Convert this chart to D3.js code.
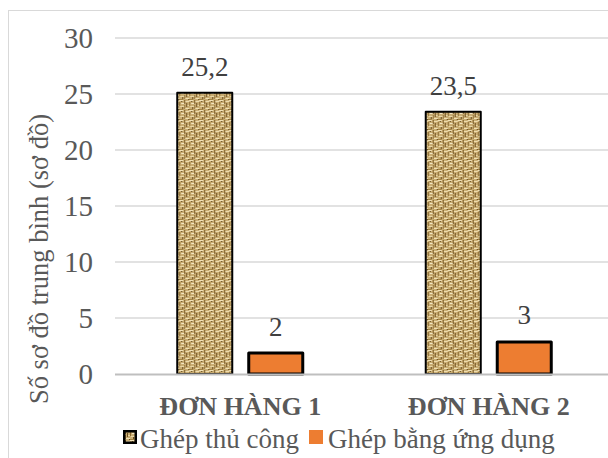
<!DOCTYPE html>
<html>
<head>
<meta charset="utf-8">
<script src="https://cdn.jsdelivr.net/npm/d3@7"></script>
<style>
  html, body { margin: 0; padding: 0; background: #fff; }
  svg { display: block; }
  svg text { font-family: "Liberation Serif", "Times New Roman", Times, "DejaVu Serif", serif !important; }
</style>
</head>
<body>
<svg id="chart" width="608" height="458"></svg>
<script>
// Categories, series and values
const categories = ["ĐƠN HÀNG 1", "ĐƠN HÀNG 2"];
const seriesNames = ["Ghép thủ công", "Ghép bằng ứng dụng"];
const manualValues = [25.2, 23.5];
const appValues = [2, 3];
const valueLabels = [["25,2", "2"], ["23,5", "3"]];
const yTicks = [0, 5, 10, 15, 20, 25, 30];
const yTitle = "Số sơ đồ trung bình (sơ đồ)";

const svg = d3.select("#chart");
const W = 608, H = 458;
const SERIF = "'Liberation Serif', 'Times New Roman', Times, 'DejaVu Serif', serif";

// Burlap-like woven texture for the manual series
const defs = svg.append("defs");
const pat = defs.append("pattern")
  .attr("id", "burlap")
  .attr("patternUnits", "userSpaceOnUse")
  .attr("width", 10).attr("height", 10);
pat.append("rect").attr("width", 10).attr("height", 10).attr("fill", "#c9ad73");
[
  [0, 0, 4, 1, "#f1e2b8"], [5, 0, 1, 4, "#7a5a26"], [6, 1, 4, 1, "#eedcae"],
  [0, 2, 1, 4, "#8c6b32"], [2, 3, 3, 1, "#f4e7c4"], [7, 3, 1, 4, "#6f5020"],
  [1, 6, 4, 1, "#ead7a6"], [5, 5, 1, 4, "#93733a"], [6, 8, 4, 1, "#f0e0b3"],
  [0, 9, 4, 1, "#a28243"], [2, 1, 1, 1, "#5e4418"], [9, 9, 1, 1, "#5e4418"],
  [3, 7, 1, 2, "#6b4d1f"], [8, 5, 2, 1, "#e9d5a2"]
].forEach(([x, y, w, h, c]) => {
  pat.append("rect").attr("x", x).attr("y", y).attr("width", w).attr("height", h).attr("fill", c);
});

const colors = { manual: "url(#burlap)", app: "#ED7D31" };

// Chart frame
svg.append("rect")
  .attr("x", 8.5).attr("y", 10.5)
  .attr("width", W + 20).attr("height", H + 20)
  .attr("fill", "none").attr("stroke", "#d9d9d9").attr("stroke-width", 1);

// Scales
const plot = { left: 116, right: 613, top: 38, bottom: 374 };
const y = d3.scaleLinear().domain([0, 30]).range([plot.bottom, plot.top]);
const x0 = d3.scaleBand().domain(categories).range([plot.left, plot.right]);
const x1 = d3.scaleBand().domain(seriesNames).range([0, 142])
  .paddingInner(0.197).paddingOuter(0.0985);

// Gridlines
svg.append("g")
  .selectAll("line")
  .data(yTicks.filter(t => t > 0))
  .join("line")
  .attr("x1", 115).attr("x2", W)
  .attr("y1", d => y(d)).attr("y2", d => y(d))
  .attr("stroke", "#d9d9d9").attr("stroke-width", 1.5);

// Y axis tick labels
const yAxis = d3.axisLeft(y).tickValues(yTicks).tickSize(0).tickPadding(0)
  .tickFormat(d => String(d));
svg.append("g")
  .attr("transform", "translate(93,0)")
  .call(yAxis)
  .attr("font-family", SERIF)
  .call(g => g.select(".domain").remove())
  .call(g => g.selectAll("text")
    .attr("fill", "#595959")
    .attr("font-size", "29px")
    .attr("dy", "0.34em"));

// Y axis title
svg.append("text")
  .attr("transform", `translate(48,${(113 + 405) / 2}) rotate(-90)`)
  .attr("text-anchor", "middle")
  .attr("fill", "#595959")
  .attr("font-size", "26.5px")
  .attr("font-family", SERIF)
  .text(yTitle);

// Bars
const rows = categories.map((c, i) => ({
  cat: c,
  bars: [
    { s: seriesNames[0], v: manualValues[i], fill: colors.manual, sw: 2, label: valueLabels[i][0] },
    { s: seriesNames[1], v: appValues[i], fill: colors.app, sw: 3, label: valueLabels[i][1] }
  ]
}));

const groups = svg.append("g").selectAll("g")
  .data(rows)
  .join("g")
  .attr("transform", d => `translate(${x0(d.cat) + x0.bandwidth() / 2 - 71},0)`);

groups.selectAll("rect")
  .data(d => d.bars)
  .join("rect")
  .attr("x", d => x1(d.s) + d.sw / 2)
  .attr("width", d => x1.bandwidth() - d.sw)
  .attr("y", d => y(d.v) + d.sw / 2)
  .attr("height", d => y(0) - y(d.v) - d.sw / 2)
  .attr("fill", d => d.fill)
  .attr("stroke", "#000")
  .attr("stroke-width", d => d.sw)
  .attr("stroke-linejoin", "round");

groups.selectAll("text")
  .data(d => d.bars)
  .join("text")
  .attr("x", d => x1(d.s) + x1.bandwidth() / 2)
  .attr("y", d => y(d.v) - 16)
  .attr("text-anchor", "middle")
  .attr("fill", "#404040")
  .attr("font-size", "27px")
  .attr("font-family", SERIF)
  .text(d => d.label);

// Category axis line
svg.append("line")
  .attr("x1", 115).attr("x2", W)
  .attr("y1", y(0) + 0.5).attr("y2", y(0) + 0.5)
  .attr("stroke", "#bfbfbf").attr("stroke-width", 2);

// Category labels
const xAxis = d3.axisBottom(x0).tickSize(0).tickPadding(0);
svg.append("g")
  .attr("transform", `translate(0,${y(0)})`)
  .call(xAxis)
  .attr("font-family", SERIF)
  .call(g => g.select(".domain").remove())
  .call(g => g.selectAll("text")
    .attr("fill", "#595959")
    .attr("font-size", "26px")
    .attr("font-weight", "bold")
    .attr("dy", null)
    .attr("y", 41));

// Legend
const legend = svg.append("g");
const legendItems = [
  { name: seriesNames[0], fill: colors.manual, stroke: "#000", sw: 2.5, x: 123, tx: 140 },
  { name: seriesNames[1], fill: colors.app, stroke: "none", sw: 0, x: 309, tx: 328 }
];
legendItems.forEach(it => {
  legend.append("rect")
    .attr("x", it.x + it.sw / 2).attr("y", 430 + it.sw / 2)
    .attr("width", 14 - it.sw).attr("height", 14 - it.sw)
    .attr("fill", it.fill).attr("stroke", it.stroke).attr("stroke-width", it.sw);
  legend.append("text")
    .attr("x", it.tx).attr("y", 448)
    .attr("fill", "#595959")
    .attr("font-size", "27px")
    .attr("font-family", SERIF)
    .text(it.name);
});
</script>
</body>
</html>
